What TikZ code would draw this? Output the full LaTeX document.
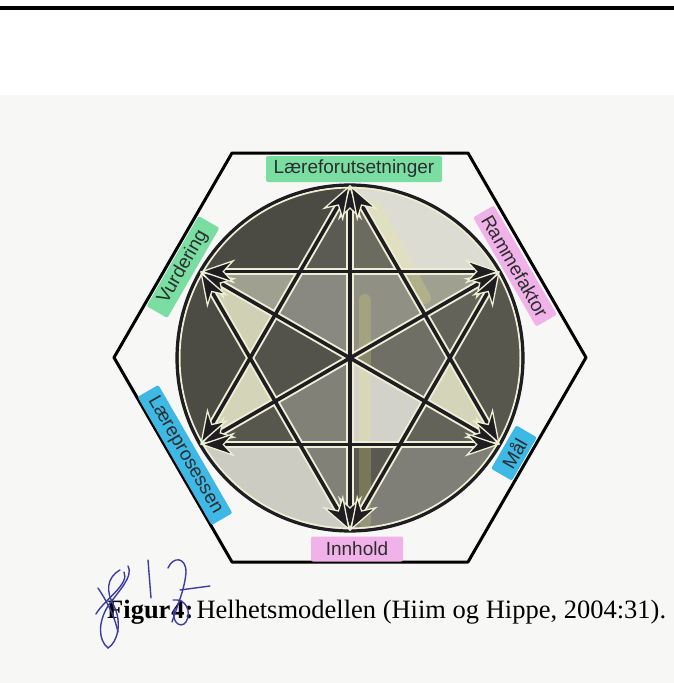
\documentclass[tikz,border=0pt]{standalone}
\usepackage{fontspec}
\setmainfont{Liberation Serif}
\newfontfamily\labfont{Liberation Sans}
\usetikzlibrary{arrows.meta}
\definecolor{paper}{RGB}{247,247,245}
\definecolor{cream}{RGB}{238,238,212}
\definecolor{ink}{RGB}{30,30,34}
\definecolor{txt}{RGB}{45,45,45}
\definecolor{hlgreen}{RGB}{122,222,162}
\definecolor{hlpink}{RGB}{240,178,232}
\definecolor{hlblue}{RGB}{62,184,228}
\definecolor{hlyellow}{RGB}{240,240,120}
\definecolor{pen}{RGB}{60,60,165}
\begin{document}
\begin{tikzpicture}[x=1pt,y=-1pt,
  lab/.style={font=\labfont\fontsize{19}{22}\selectfont, text=txt, rounded corners=2pt, inner sep=0pt, minimum height=24pt},
  halo/.style={line width=7.5pt, draw=cream, shorten <=18pt, shorten >=18pt},
  arr/.style={line width=3.6pt, draw=ink,
    {Stealth[length=35pt,width=24pt,inset=11pt,color=cream,fill=ink,line width=1.3pt]}-{Stealth[length=35pt,width=24pt,inset=11pt,color=cream,fill=ink,line width=1.3pt]}},
  hl/.style={line width=12pt, draw=hlyellow, opacity=0.2, line cap=round},
  penline/.style={draw=pen, line width=1.4pt, line cap=round, line join=round}]
\useasboundingbox (0,0) rectangle (674,683);
\fill[white] (0,0) rectangle (674,683);
\fill[paper] (0,95) rectangle (674,683);
\coordinate (rl) at (0,8); \coordinate (rr) at (674,8);
\draw[line width=3.5pt] (rl) -- (rr);

% points
\coordinate (C) at (350,358);
\coordinate (T) at (350,185);   \coordinate (B) at (350,531);
\coordinate (UL) at (200.2,271.5); \coordinate (UR) at (499.8,271.5);
\coordinate (LL) at (200.2,444.5); \coordinate (LR) at (499.8,444.5);
\coordinate (H1) at (400,271.5); \coordinate (H0) at (450,358);
\coordinate (H5) at (400,444.5); \coordinate (H4) at (300,444.5);
\coordinate (H3) at (250,358);   \coordinate (H2) at (300,271.5);
\coordinate (M90) at (350,271.5); \coordinate (M30) at (424.9,314.75);
\coordinate (Mm30) at (424.9,401.25); \coordinate (Mm90) at (350,444.5);
\coordinate (M210) at (275.1,401.25); \coordinate (M150) at (275.1,314.75);

% hexagon
\draw[line width=3pt, line join=round] (232,153) -- (468,153) -- (586,357.5) -- (468,562) -- (232,562) -- (114,357.5) -- cycle;

% labels
\node[lab, fill=hlgreen, minimum width=176pt, minimum height=26pt] (lf) at (354,169) {Læreforutsetninger};
\node[lab, fill=hlgreen, rotate=60, minimum width=104pt] (vu) at (183,267) {Vurdering};
\node[lab, fill=hlpink, rotate=-60, minimum width=126pt] (ra) at (515,266) {Rammefaktor};
\node[lab, fill=hlblue, rotate=-60, minimum width=148pt] (lp) at (185,455) {Læreprosessen};
\node[lab, fill=hlblue, rotate=60, minimum width=50pt] (ma) at (514,453) {Mål};
\node[lab, fill=hlpink, minimum width=92pt, minimum height=25pt] (in) at (357,549) {Innhold};

% circle segments
\begin{scope}
\clip (C) circle[radius=173pt];
\fill[fill={rgb,255:red,220;green,220;blue,210}] (C) -- (350,58) -- (500,98.2) -- (609.8,208) -- cycle;
\fill[fill={rgb,255:red,88;green,87;blue,78}] (C) -- (609.8,208) -- (650,358) -- (609.8,508) -- cycle;
\fill[fill={rgb,255:red,128;green,127;blue,119}] (C) -- (609.8,508) -- (500,617.8) -- (350,658) -- cycle;
\fill[fill={rgb,255:red,204;green,204;blue,195}] (C) -- (350,658) -- (200,617.8) -- (90.2,508) -- cycle;
\fill[fill={rgb,255:red,77;green,76;blue,68}] (C) -- (90.2,508) -- (50,358) -- (90.2,208) -- cycle;
\fill[fill={rgb,255:red,76;green,75;blue,67}] (C) -- (90.2,208) -- (200,98.2) -- (350,58) -- cycle;
\end{scope}

% star tips
\fill[fill={rgb,255:red,92;green,91;blue,83}] (T) -- (H2) -- (M90) -- cycle;
\fill[fill={rgb,255:red,108;green,107;blue,95}] (T) -- (M90) -- (H1) -- cycle;
\fill[fill={rgb,255:red,160;green,160;blue,144}] (UR) -- (H1) -- (M30) -- cycle;
\fill[fill={rgb,255:red,100;green,99;blue,90}] (UR) -- (M30) -- (H0) -- cycle;
\fill[fill={rgb,255:red,212;green,212;blue,184}] (LR) -- (H0) -- (Mm30) -- cycle;
\fill[fill={rgb,255:red,100;green,99;blue,90}] (LR) -- (Mm30) -- (H5) -- cycle;
\fill[fill={rgb,255:red,90;green,89;blue,81}] (B) -- (H5) -- (Mm90) -- cycle;
\fill[fill={rgb,255:red,130;green,129;blue,120}] (B) -- (Mm90) -- (H4) -- cycle;
\fill[fill={rgb,255:red,88;green,87;blue,78}] (LL) -- (H4) -- (M210) -- cycle;
\fill[fill={rgb,255:red,212;green,212;blue,184}] (LL) -- (M210) -- (H3) -- cycle;
\fill[fill={rgb,255:red,208;green,208;blue,180}] (UL) -- (H3) -- (M150) -- cycle;
\fill[fill={rgb,255:red,160;green,160;blue,144}] (UL) -- (M150) -- (H2) -- cycle;
% inner kites
\fill[fill={rgb,255:red,138;green,137;blue,129}] (C) -- (M150) -- (H2) -- (M90) -- cycle;
\fill[fill={rgb,255:red,144;green,144;blue,133}] (C) -- (M90) -- (H1) -- (M30) -- cycle;
\fill[fill={rgb,255:red,112;green,111;blue,101}] (C) -- (M30) -- (H0) -- (Mm30) -- cycle;
\fill[fill={rgb,255:red,210;green,210;blue,202}] (C) -- (Mm30) -- (H5) -- (Mm90) -- cycle;
\fill[fill={rgb,255:red,130;green,129;blue,119}] (C) -- (Mm90) -- (H4) -- (M210) -- cycle;
\fill[fill={rgb,255:red,84;green,83;blue,75}] (C) -- (M210) -- (H3) -- (M150) -- cycle;

% highlighter traces
\coordinate (y1) at (365,300); \coordinate (y2) at (365,522);
\coordinate (y3) at (374,205); \coordinate (y4) at (425,298);
\draw[hl] (y1) -- (y2);
\draw[hl] (y3) -- (y4);

% circle border
\draw[cream, line width=2pt] (C) circle[radius=170.5pt];
\draw[ink, line width=3.2pt] (C) circle[radius=173pt];

% halos
\foreach \a/\b in {T/B, UL/LR, UR/LL, T/LL, T/LR, LL/LR, B/UL, B/UR, UL/UR}
  \draw[halo] (\a) -- (\b);
% arrows
\foreach \a/\b in {T/B, UL/LR, UR/LL, T/LL, T/LR, LL/LR, B/UL, B/UR, UL/UR}
  \draw[arr] (\a) -- (\b);

% caption
\node[anchor=base west, inner sep=0pt, font=\fontsize{26.5}{30}\selectfont] (cap) at (107,618) {\textbf{Figur}\kern1pt\textbf{4:}\kern3pt Helhetsmodellen (Hiim og Hippe, 2004:31).};

% handwriting
\draw[penline] (148,560) -- (151,598);
\draw[penline] (168,568) .. controls (173,556) and (186,557) .. (186,572) .. controls (185,588) and (178,604) .. (172,622);
\draw[penline] (180,590) -- (210,586);
\draw[penline] (128,566) .. controls (134,576) and (118,592) .. (108,606) .. controls (98,622) and (98,640) .. (108,648);
\draw[penline] (108,648) .. controls (118,642) and (122,622) .. (114,606) .. controls (106,592) and (106,578) .. (120,570);
\draw[penline] (98,588) .. controls (106,600) and (114,614) .. (118,632);
\draw[penline] (124,572) .. controls (130,584) and (104,600) .. (96,614);
\draw[penline] (173,600) .. controls (186,598) and (192,612) .. (186,622) .. controls (180,630) and (170,620) .. (175,608);
\end{tikzpicture}
\end{document}
